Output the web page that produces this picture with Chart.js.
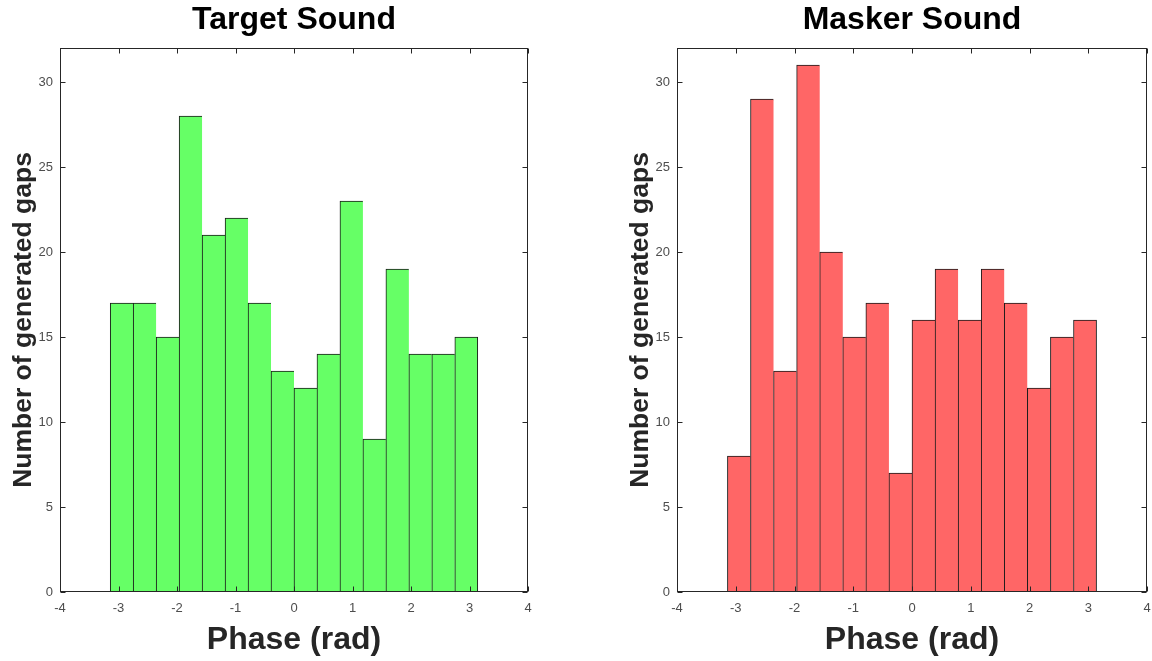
<!DOCTYPE html>
<html>
<head>
<meta charset="utf-8">
<script src="https://cdn.jsdelivr.net/npm/chart.js@4.4.1/dist/chart.umd.min.js"></script>
<style>
  html, body { margin: 0; padding: 0; background: #ffffff; }
  #wrap { position: relative; width: 1152px; height: 661px; }
  canvas { position: absolute; top: 0; }
  #target { left: 0; }
  #masker { left: 576px; }
</style>
</head>
<body>
<div id="wrap">
  <canvas id="target" width="576" height="661"></canvas>
  <canvas id="masker" width="576" height="661"></canvas>
</div>
<script>
// Histogram counts, 16 equal bins spanning -pi..pi
const targetCounts = [17, 17, 15, 28, 21, 22, 17, 13, 12, 14, 23, 9, 19, 14, 14, 15];
const maskerCounts = [8, 29, 13, 31, 20, 15, 17, 7, 16, 19, 16, 19, 17, 12, 15, 16];
const phaseRange = [-Math.PI, Math.PI];
const xTickValues = [-4, -3, -2, -1, 0, 1, 2, 3, 4];
const yTickValues = [0, 5, 10, 15, 20, 25, 30];
const xLimits = [-4, 4];
const yLimits = [0, 32];

const AXIS_COLOR = '#262626';
const LABEL_COLOR = '#4d4d4d';
const FONT = "'Liberation Sans', Arial, sans-serif";

function binData(counts) {
  const w = (phaseRange[1] - phaseRange[0]) / counts.length;
  return counts.map((c, i) => ({ x: phaseRange[0] + (i + 0.5) * w, y: c }));
}

// Box around the axes with inward tick marks on all four sides
const boxPlugin = {
  id: 'boxAxes',
  afterDatasetsDraw(chart) {
    const { ctx, chartArea: a, scales: { x, y } } = chart;
    const L = Math.round(a.left) + 0.5, R = Math.round(a.right) - 0.5;
    const T = Math.round(a.top) + 0.5, B = Math.round(a.bottom) - 0.5;
    ctx.save();
    ctx.strokeStyle = AXIS_COLOR;
    ctx.lineWidth = 1;
    ctx.strokeRect(L, T, R - L, B - T);
    ctx.beginPath();
    xTickValues.forEach(v => {
      const px = Math.round(x.getPixelForValue(v)) + 0.5;
      ctx.moveTo(px, B); ctx.lineTo(px, B - 5);
      ctx.moveTo(px, T); ctx.lineTo(px, T + 5);
    });
    yTickValues.forEach(v => {
      const py = Math.round(y.getPixelForValue(v)) + 0.5;
      ctx.moveTo(L, py); ctx.lineTo(L + 5, py);
      ctx.moveTo(R, py); ctx.lineTo(R - 5, py);
    });
    ctx.stroke();
    ctx.restore();
  }
};

function makeHistogram(canvasId, title, counts, fill, padLeft, padRight) {
  const n = counts.length;
  return new Chart(document.getElementById(canvasId), {
    type: 'bar',
    data: {
      datasets: [{
        data: binData(counts),
        backgroundColor: fill,
        borderColor: '#1a1a1a',
        borderWidth: c => ({ left: 1, top: 1, bottom: 0, right: c.dataIndex === n - 1 ? 1 : 0 }),
        borderSkipped: false,
        barPercentage: 1,
        categoryPercentage: 1,
        grouped: false
      }]
    },
    options: {
      responsive: false,
      animation: false,
      devicePixelRatio: 1,
      layout: { padding: { left: padLeft, right: padRight, top: 0, bottom: 0 } },
      plugins: {
        legend: { display: false },
        tooltip: { enabled: false },
        title: {
          display: true,
          text: title,
          fullSize: false,
          color: '#000000',
          font: { family: FONT, size: 32, weight: 'bold', lineHeight: 1.2 },
          padding: { top: 0.8, bottom: 8.8 }
        }
      },
      scales: {
        x: {
          type: 'linear',
          min: xLimits[0],
          max: xLimits[1],
          offset: false,
          grid: { display: false, drawTicks: false, offset: false },
          border: { display: false },
          afterBuildTicks: s => { s.ticks = xTickValues.map(v => ({ value: v })); },
          afterFit: s => { s.height = 69; s.paddingLeft = 0; s.paddingRight = 0; },
          ticks: { color: LABEL_COLOR, font: { family: FONT, size: 13 }, padding: 9, maxRotation: 0 },
          title: {
            display: true,
            text: 'Phase (rad)',
            color: '#262626',
            font: { family: FONT, size: 32, weight: 'bold', lineHeight: 1.2 },
            padding: { top: 0, bottom: 1.8 }
          }
        },
        y: {
          type: 'linear',
          min: yLimits[0],
          max: yLimits[1],
          grid: { display: false, drawTicks: false },
          border: { display: false },
          afterBuildTicks: s => { s.ticks = yTickValues.map(v => ({ value: v })); },
          afterFit: s => { s.width = 60; s.paddingTop = 0; s.paddingBottom = 0; },
          ticks: { color: LABEL_COLOR, font: { family: FONT, size: 13 }, padding: 7 },
          title: {
            display: true,
            text: 'Number of generated gaps',
            color: '#262626',
            font: { family: FONT, size: 26.5, weight: 'bold', lineHeight: 1.2 },
            padding: { top: 8, bottom: 0 }
          }
        }
      }
    },
    plugins: [boxPlugin]
  });
}

makeHistogram('target', 'Target Sound', targetCounts, '#66ff66', 0, 48);
makeHistogram('masker', 'Masker Sound', maskerCounts, '#ff6666', 41, 5);
</script>
</body>
</html>
